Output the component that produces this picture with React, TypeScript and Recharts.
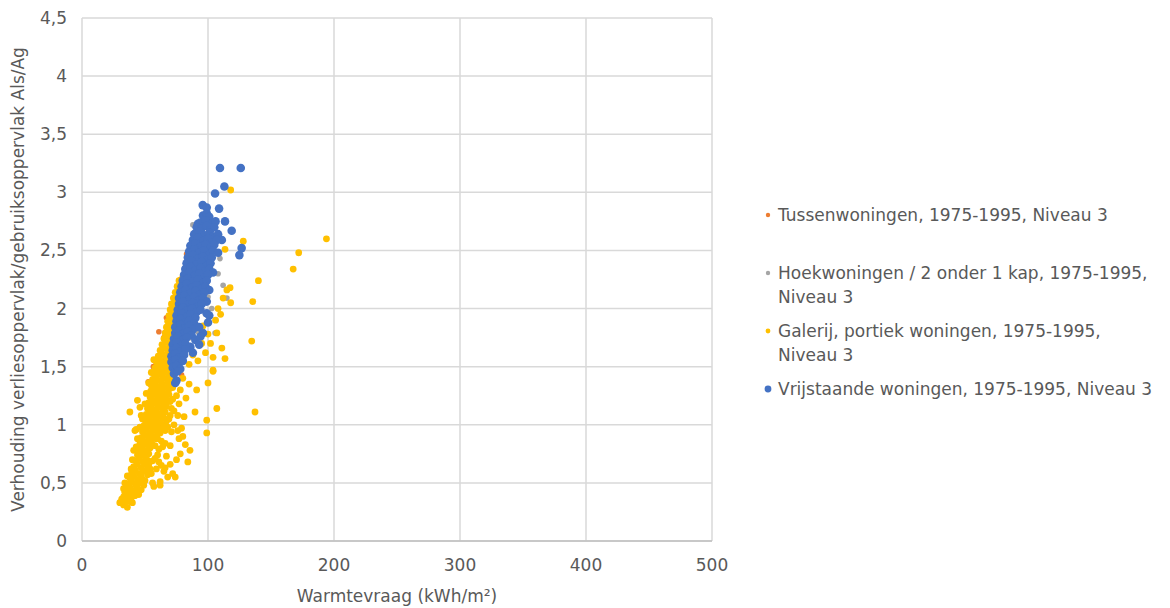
import React from "react";
import {
  ScatterChart,
  Scatter,
  XAxis,
  YAxis,
  CartesianGrid,
} from "recharts";

const seriesNames = [
  "Tussenwoningen, 1975-1995, Niveau 3",
  "Hoekwoningen / 2 onder 1 kap, 1975-1995, Niveau 3",
  "Galerij, portiek woningen, 1975-1995, Niveau 3",
  "Vrijstaande woningen, 1975-1995, Niveau 3",
];
const legendLines = [
  ["Tussenwoningen, 1975-1995, Niveau 3"],
  ["Hoekwoningen / 2 onder 1 kap, 1975-1995,", "Niveau 3"],
  ["Galerij, portiek woningen, 1975-1995,", "Niveau 3"],
  ["Vrijstaande woningen, 1975-1995, Niveau 3"],
];
const xTicks = [0, 100, 200, 300, 400, 500];
const yTicks = [0, 0.5, 1, 1.5, 2, 2.5, 3, 3.5, 4, 4.5];
const xTitle = "Warmtevraag (kWh/m²)";
const yTitle = "Verhouding verliesoppervlak/gebruiksoppervlak Als/Ag";

const tussenPts: [number, number][] = [
  [52.6, 1.37], [56.6, 1.5], [59, 1.1], [64, 1.0], [67, 1.92], [79, 1.43],
  [83, 2.47], [60, 1.25], [62, 1.6], [65, 1.75], [70, 1.85], [72, 2.0],
  [75, 2.1], [78, 2.25], [55, 1.2], [58, 1.4], [63, 1.45], [68, 1.65],
  [74, 1.55], [57, 1.3], [61, 1.8], [66, 1.55], [70, 1.7],
];

const hoekPts: [number, number][] = [
  [88, 2.72], [74, 2.03], [115, 2.09], [105.6, 1.79], [68, 1.81], [109.5, 2.43],
  [78, 2.1], [80, 2.2], [82, 2.35], [85, 2.5], [76, 1.95], [72, 1.88],
  [70, 1.7], [90, 2.6], [95, 2.2], [100, 2.1], [103, 2.0], [98, 1.95],
  [92, 1.8], [86, 1.75], [84, 1.65], [80, 1.6], [76, 1.55], [108, 2.3],
  [112, 2.2], [73, 1.75],
];

const galerijPts: [number, number][] = [
  // main band
  [77, 2.24], [80, 2.27], [74, 2.14], [77, 2.16], [80, 2.13],
  [71, 2.04], [74, 2.06], [77, 2.03], [69, 1.94], [72, 1.96], [75, 1.93],
  [67, 1.84], [70, 1.86], [73, 1.83], [76, 1.85],
  [65, 1.74], [68, 1.76], [71, 1.73], [74, 1.75],
  [62, 1.64], [65, 1.66], [68, 1.63], [71, 1.65], [74, 1.62],
  [59, 1.54], [62, 1.56], [65, 1.53], [68, 1.55], [71, 1.52],
  [57, 1.44], [60, 1.46], [63, 1.43], [66, 1.45], [69, 1.42], [72, 1.46],
  [55, 1.34], [58, 1.36], [61, 1.33], [64, 1.35], [67, 1.32], [70, 1.36],
  [54, 1.24], [57, 1.26], [60, 1.23], [63, 1.25], [66, 1.22], [69, 1.26],
  [52, 1.14], [55, 1.16], [58, 1.13], [61, 1.15], [64, 1.12], [67, 1.16],
  [50, 1.04], [53, 1.06], [56, 1.03], [59, 1.05], [62, 1.02], [65, 1.06],
  [48, 0.94], [51, 0.96], [54, 0.93], [57, 0.95], [60, 0.92], [64, 0.96],
  [46, 0.84], [49, 0.86], [52, 0.83], [55, 0.85], [59, 0.88],
  [44, 0.74], [47, 0.76], [50, 0.73], [53, 0.75],
  [41, 0.64], [44, 0.66], [47, 0.63], [50, 0.66],
  [38, 0.54], [41, 0.56], [44, 0.53], [47, 0.56],
  [35, 0.44], [38, 0.46], [41, 0.43], [44, 0.46],
  [33, 0.38], [36, 0.4], [39, 0.37], [42, 0.39],
  [30, 0.33], [33, 0.31], [36, 0.29], [38, 0.34],
  // main band, in-between rows
  [75.5, 2.19], [78.5, 2.21], [72.5, 2.09], [75.5, 2.11], [78.5, 2.08],
  [70, 1.99], [73, 2.01], [76, 1.98], [68, 1.89], [71, 1.91], [74, 1.88],
  [66, 1.79], [69, 1.81], [72, 1.78], [75, 1.8],
  [63.5, 1.69], [66.5, 1.71], [69.5, 1.68], [72.5, 1.7],
  [60.5, 1.59], [63.5, 1.61], [66.5, 1.58], [69.5, 1.6], [72.5, 1.57],
  [58, 1.49], [61, 1.51], [64, 1.48], [67, 1.5], [70, 1.47],
  [56, 1.39], [59, 1.41], [62, 1.38], [65, 1.4], [68, 1.37], [71, 1.41],
  [54.5, 1.29], [57.5, 1.31], [60.5, 1.28], [63.5, 1.3], [66.5, 1.27], [69.5, 1.31],
  [53, 1.19], [56, 1.21], [59, 1.18], [62, 1.2], [65, 1.17], [68, 1.21],
  [51, 1.09], [54, 1.11], [57, 1.08], [60, 1.1], [63, 1.07], [66, 1.11],
  [49, 0.99], [52, 1.01], [55, 0.98], [58, 1.0], [61, 0.97],
  [47, 0.89], [50, 0.91], [53, 0.88], [56, 0.9],
  [45, 0.79], [48, 0.81], [51, 0.78], [54, 0.8],
  [42.5, 0.69], [45.5, 0.71], [48.5, 0.68], [51.5, 0.7],
  [39.5, 0.59], [42.5, 0.61], [45.5, 0.58], [48.5, 0.6],
  [36.5, 0.49], [39.5, 0.51], [42.5, 0.48], [45.5, 0.5],
  [34, 0.42], [37, 0.43], [40, 0.41], [43, 0.42],
  [31.5, 0.36], [34.5, 0.34], [37.5, 0.36], [40, 0.33],
  // irregular spread around the band
  [58, 0.82], [61, 0.79], [63, 0.86], [66, 0.84], [62, 0.93], [65, 0.99],
  [68, 0.98], [60, 0.74], [56, 0.69], [54, 0.62], [52, 0.57], [55, 0.58],
  [50, 0.52], [53, 0.66], [49, 0.48], [47, 0.44], [45, 0.4], [48, 0.53],
  [40, 0.7], [41, 0.78], [44, 0.88], [46, 0.98], [47, 1.08], [50, 1.18],
  [51, 1.27], [53, 1.36], [55, 1.45], [57, 1.56], [70, 1.08], [72, 1.22],
  [74, 1.38], [67, 1.03], [71, 1.14], [73, 1.5], [76, 1.6], [36, 0.56],
  [34, 0.5], [33, 0.45], [39, 0.62], [61, 0.68], [66, 0.63], [70, 0.66],
  [78, 0.75], [82, 0.83], [76, 0.95], [73, 1.0], [77, 1.18], [81, 1.07],
  // left strays
  [38, 1.11], [43, 0.96], [44, 1.21], [42, 0.95], [43, 0.81], [46, 0.73],
  [51, 0.61], [48, 1.05], [46, 1.15],
  // lower-right branch
  [56, 0.5], [62, 0.51], [68, 0.55], [72, 0.58], [58, 0.71], [64, 0.81],
  [67, 0.73], [71, 0.94], [75, 0.7], [79, 0.97], [80, 0.9], [84, 0.68],
  [85.7, 0.78], [62, 0.48], [57, 0.47], [74, 0.55], [52, 0.76], [55, 0.85],
  [60, 0.88], [66, 0.95], [69, 1.05], [73, 1.12], [76, 1.08], [70, 0.82],
  [63, 0.65], [59, 0.62], [65, 0.6], [77, 0.88],
  // right of main band
  [107, 1.14], [99, 1.04], [99, 0.93], [100, 1.36], [91, 1.3], [89.7, 1.11],
  [82.5, 1.23], [104, 1.46], [85, 1.35], [80, 1.4], [75, 1.25], [78, 1.3],
  [72, 1.32], [70, 1.2],
  // right of blue cluster
  [115, 2.16], [112, 2.09], [108, 2.0], [107, 1.79], [111, 1.66], [104, 1.58],
  [113.5, 1.57], [104, 1.47], [98, 1.62], [95, 1.7], [92, 1.55], [88, 1.6],
  [85, 1.52], [96, 1.85], [100, 1.78], [102, 1.7], [106, 1.9], [110, 1.95],
  [113.5, 2.51], [118, 3.02], [128, 2.58], [117.5, 2.18], [118, 2.05],
  // far outliers
  [194, 2.6], [172, 2.48], [167.6, 2.34], [140, 2.24], [135.5, 2.06],
  [134.7, 1.72], [137.3, 1.11],
];

const vrijstaandPts: [number, number][] = [
  [109.5, 3.21], [126, 3.21], [113, 3.05], [105.6, 2.99], [95.8, 2.89],
  [99, 2.87], [108.8, 2.86], [92, 2.73], [113.5, 2.75], [118.8, 2.67],
  [111, 2.59], [126.7, 2.52], [124.9, 2.46],
  [96, 2.8], [99, 2.82], [101, 2.79],
  [94, 2.74], [98, 2.76], [103, 2.73], [106, 2.75],
  [91, 2.7], [95, 2.69], [99, 2.71], [102, 2.68], [105, 2.7],
  [89, 2.64], [93, 2.66], [97, 2.63], [101, 2.65], [104, 2.62], [108, 2.64],
  [88, 2.59], [92, 2.61], [96, 2.58], [100, 2.6], [103, 2.57], [107, 2.59],
  [86, 2.54], [90, 2.56], [94, 2.53], [98, 2.55], [102, 2.52], [105, 2.55],
  [85, 2.49], [89, 2.51], [93, 2.48], [97, 2.5], [101, 2.47], [104, 2.5], [108, 2.48],
  [84, 2.44], [88, 2.46], [92, 2.43], [96, 2.45], [100, 2.42], [103, 2.44],
  [83, 2.39], [87, 2.41], [91, 2.38], [95, 2.4], [99, 2.37], [102, 2.39],
  [82, 2.34], [86, 2.36], [90, 2.33], [94, 2.35], [98, 2.32], [101, 2.34], [104, 2.31],
  [81, 2.29], [85, 2.31], [89, 2.28], [93, 2.3], [97, 2.27], [100, 2.29],
  [80, 2.24], [84, 2.26], [88, 2.23], [92, 2.25], [96, 2.22], [99, 2.24],
  [79, 2.19], [83, 2.21], [87, 2.18], [91, 2.2], [95, 2.17], [98, 2.19], [101, 2.16],
  [78, 2.14], [82, 2.16], [86, 2.13], [90, 2.15], [94, 2.12], [97, 2.14],
  [77, 2.09], [81, 2.11], [85, 2.08], [89, 2.1], [93, 2.07], [96, 2.09], [99, 2.06],
  [77, 2.04], [80, 2.06], [84, 2.03], [88, 2.05], [92, 2.02], [95, 2.04],
  [76, 1.99], [80, 2.01], [83, 1.98], [87, 2.0], [91, 1.97], [94, 1.99], [99, 1.96],
  [75, 1.94], [79, 1.96], [83, 1.93], [86, 1.95], [90, 1.92], [101, 1.94],
  [75, 1.89], [78, 1.91], [82, 1.88], [85, 1.9], [89, 1.87], [100, 1.88],
  [74, 1.84], [78, 1.86], [81, 1.83], [85, 1.85], [88, 1.82], [93, 1.84],
  [74, 1.79], [77, 1.81], [80, 1.78], [84, 1.8], [87, 1.77], [96, 1.79],
  [73, 1.74], [76, 1.76], [80, 1.73], [83, 1.75], [90, 1.73], [94, 1.76],
  [72, 1.69], [75, 1.71], [79, 1.68], [82, 1.7], [86, 1.67], [93, 1.69],
  [72, 1.64], [75, 1.66], [78, 1.63], [82, 1.65], [88, 1.62],
  [71, 1.59], [74, 1.61], [77, 1.58], [81, 1.6],
  [71, 1.54], [74, 1.56], [77, 1.53], [80, 1.55],
  [72, 1.49], [75, 1.51], [78, 1.48],
  [73, 1.44], [76, 1.46],
  [75, 1.38], [74, 1.36],
];

const colors = ["#ED7D31", "#A5A5A5", "#FFC000", "#4472C4"];
const radii = [2.8, 2.8, 3.4, 4.3];
const legendRadii = [2.2, 2.2, 2.4, 3.4];

const toObjs = (pts: [number, number][]) => pts.map(([x, y]) => ({ x, y }));
const allSeries = [tussenPts, hoekPts, galerijPts, vrijstaandPts].map(toObjs);

const FONT = "'DejaVu Sans', Verdana, sans-serif";
const TEXT = "#595959";

const makeShape = (i: number) => (props: any) => (
  <circle cx={props.cx} cy={props.cy} r={radii[i]} fill={colors[i]} />
);

const LegendBox = () => (
  <div
    style={{
      position: "absolute",
      left: 763,
      top: 203,
      width: 407,
      fontFamily: FONT,
      fontSize: 17,
      color: TEXT,
    }}
  >
    {legendLines.map((lines, i) => (
      <div
        key={i}
        title={seriesNames[i]}
        style={{
          position: "relative",
          minHeight: 48,
          marginBottom: 10,
          paddingLeft: 15,
          lineHeight: "24px",
        }}
      >
        <svg
          width={10}
          height={10}
          style={{ position: "absolute", left: 0, top: 7 }}
        >
          <circle cx={5} cy={5} r={legendRadii[i]} fill={colors[i]} />
        </svg>
        {lines.map((l, j) => (
          <div key={j} style={{ whiteSpace: "nowrap" }}>
            {l}
          </div>
        ))}
      </div>
    ))}
  </div>
);

export default function App() {
  return (
    <div style={{ position: "absolute", left: 0, top: 0, width: 1170, height: 608, background: "#fff" }}>
      <ScatterChart
        width={1170}
        height={608}
        margin={{ top: 18, right: 458, bottom: 0, left: 0 }}
      >
        <CartesianGrid stroke="#D9D9D9" strokeWidth={1.5} />
        <XAxis
          type="number"
          dataKey="x"
          domain={[0, 500]}
          ticks={xTicks}
          interval={0}
          height={67}
          tickSize={0}
          tickMargin={18}
          axisLine={{ stroke: "#BFBFBF", strokeWidth: 1.5 }}
          tick={{ fill: TEXT, fontSize: 17, fontFamily: FONT }}
          label={{
            value: xTitle,
            position: "insideBottom",
            offset: 6,
            fill: TEXT,
            fontSize: 17,
            fontFamily: FONT,
          }}
        />
        <YAxis
          type="number"
          dataKey="y"
          domain={[0, 4.5]}
          ticks={yTicks}
          interval={0}
          width={82}
          tickSize={0}
          tickMargin={15}
          axisLine={false}
          tickFormatter={(v: number) => String(v).replace(".", ",")}
          tick={{ fill: TEXT, fontSize: 17, fontFamily: FONT }}
          label={{
            value: yTitle,
            angle: -90,
            position: "insideLeft",
            offset: 18,
            fill: TEXT,
            fontSize: 17,
            fontFamily: FONT,
            style: { textAnchor: "middle" },
          }}
        />
        {allSeries.map((d, i) => (
          <Scatter
            key={i}
            name={seriesNames[i]}
            data={d}
            fill={colors[i]}
            shape={makeShape(i)}
            isAnimationActive={false}
          />
        ))}
      </ScatterChart>
      <LegendBox />
    </div>
  );
}
